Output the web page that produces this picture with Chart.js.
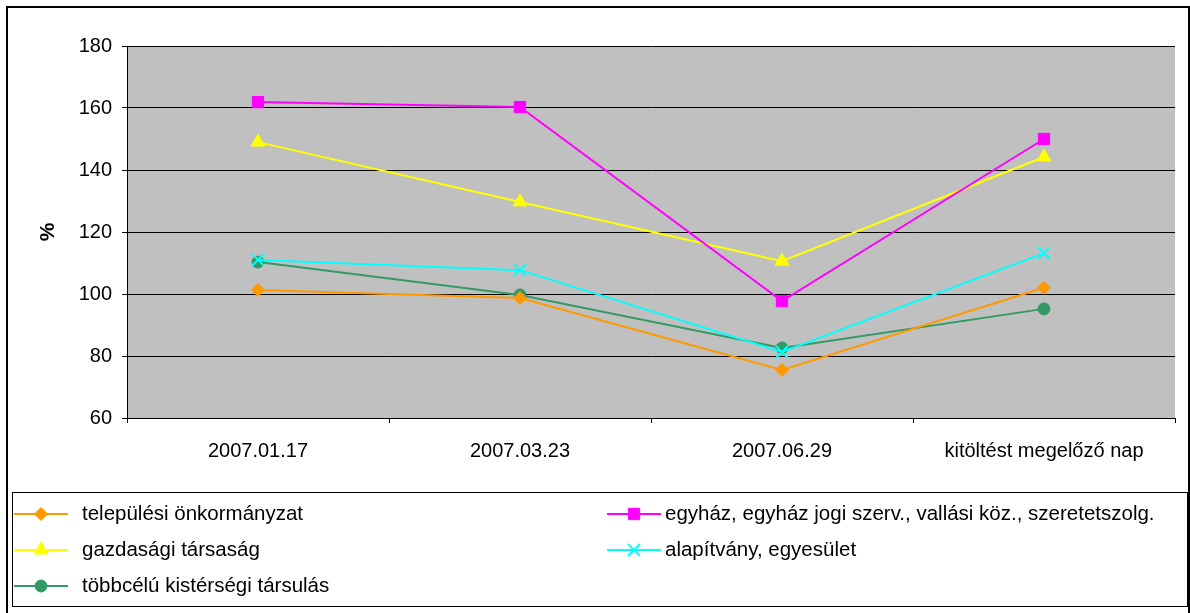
<!DOCTYPE html>
<html>
<head>
<meta charset="utf-8">
<script src="https://cdn.jsdelivr.net/npm/chart.js@4.4.0/dist/chart.umd.min.js"></script>
<style>
  html, body { margin: 0; padding: 0; background: #fff; }
  canvas { display: block; }
</style>
</head>
<body>
<canvas id="chart" width="1190" height="613"></canvas>
<script>
// data
const categories = ['2007.01.17', '2007.03.23', '2007.06.29', 'kitöltést megelőző nap'];
const yTicks = [60, 80, 100, 120, 140, 160, 180];

const onkormanyzat = [101.3, 98.7, 75.5, 102.0];
const egyhaz = [161.9, 160.3, 97.7, 150.0];
const gazdasagi = [149.0, 129.7, 110.6, 144.2];
const alapitvany = [111.0, 107.7, 81.3, 113.2];
const kisterseg = [110.3, 99.7, 82.6, 95.2];

const seriesNames = [
  'települési önkormányzat',
  'egyház, egyház jogi szerv., vallási köz., szeretetszolg.',
  'gazdasági társaság',
  'alapítvány, egyesület',
  'többcélú kistérségi társulás'
];

const FONT = 'Arial, "Liberation Sans", sans-serif';

function ds(label, data, color, style, radius) {
  return {
    label: label,
    data: data,
    borderColor: color,
    backgroundColor: color,
    pointBackgroundColor: color,
    pointBorderColor: color,
    borderWidth: 2,
    pointStyle: style,
    pointRadius: radius,
    pointBorderWidth: style === 'crossRot' ? 2 : 1,
    tension: 0
  };
}

const datasets = [
  ds(seriesNames[0], onkormanyzat, '#FF9900', 'rectRot', 6.5),
  ds(seriesNames[1], egyhaz, '#FF00FF', 'rect', 8),
  ds(seriesNames[2], gazdasagi, '#FFFF00', 'triangle', 8),
  ds(seriesNames[3], alapitvany, '#00FFFF', 'crossRot', 8.5),
  ds(seriesNames[4], kisterseg, '#339966', 'circle', 6)
];

// grey plot area, frames, y title and the two-column legend
const decor = {
  id: 'decor',
  beforeDraw(chart) {
    const a = chart.chartArea, ctx = chart.ctx;
    ctx.save();
    ctx.fillStyle = '#C0C0C0';
    ctx.fillRect(a.left, a.top, a.right - a.left, a.bottom - a.top);
    ctx.restore();
  },
  afterDraw(chart) {
    const ctx = chart.ctx, a = chart.chartArea;
    ctx.save();
    // outer frame
    ctx.strokeStyle = '#000';
    ctx.lineWidth = 2;
    ctx.strokeRect(7, 7, 1182, 612);

    // y axis title
    ctx.fillStyle = '#000';
    ctx.font = 'bold 21px ' + FONT;
    ctx.textAlign = 'center';
    ctx.textBaseline = 'middle';
    ctx.translate(48, (a.top + a.bottom) / 2);
    ctx.rotate(-Math.PI / 2);
    ctx.fillText('%', 0, 0);
    ctx.restore();

    // legend box
    ctx.save();
    ctx.strokeStyle = '#000';
    ctx.lineWidth = 1;
    ctx.strokeRect(12.5, 492.5, 1175, 114);
    const colX = [14, 607];
    const rowY = [514, 550, 586];
    ctx.font = '20.5px ' + FONT;
    ctx.textBaseline = 'middle';
    ctx.textAlign = 'left';
    chart.data.datasets.forEach((d, i) => {
      const x = colX[i % 2], y = rowY[Math.floor(i / 2)];
      ctx.strokeStyle = d.borderColor;
      ctx.lineWidth = 2;
      ctx.beginPath();
      ctx.moveTo(x, y);
      ctx.lineTo(x + 54, y);
      ctx.stroke();
      ctx.fillStyle = d.borderColor;
      ctx.lineWidth = d.pointBorderWidth;
      Chart.helpers.drawPoint(ctx, {
        pointStyle: d.pointStyle,
        radius: d.pointRadius,
        borderWidth: d.pointBorderWidth,
        rotation: 0
      }, x + 27, y);
      ctx.fillStyle = '#000';
      ctx.fillText(d.label, x + (i % 2 ? 58 : 68), y);
    });
    ctx.restore();
  }
};

new Chart(document.getElementById('chart'), {
  type: 'line',
  data: { labels: categories, datasets: datasets },
  plugins: [decor],
  options: {
    responsive: false,
    animation: false,
    layout: { padding: { left: 0, top: 46, right: 15, bottom: 135 } },
    plugins: {
      legend: { display: false },
      tooltip: { enabled: false }
    },
    scales: {
      x: {
        offset: true,
        afterFit(scale) { scale.height = 60; },
        border: { display: true, color: '#000', width: 1 },
        grid: { offset: true, drawOnChartArea: false, drawTicks: true, tickLength: 5, color: '#000' },
        ticks: { color: '#000', font: { family: FONT, size: 20 }, padding: 16, maxRotation: 0, autoSkip: false }
      },
      y: {
        min: 60,
        max: 180,
        afterFit(scale) { scale.width = 127; },
        afterBuildTicks(scale) { scale.ticks = yTicks.map(v => ({ value: v })); },
        border: { display: true, color: '#000', width: 1 },
        grid: { color: '#000', lineWidth: 1, tickLength: 5 },
        ticks: { color: '#000', font: { family: FONT, size: 20 }, padding: 10 }
      }
    }
  }
});
</script>
</body>
</html>
